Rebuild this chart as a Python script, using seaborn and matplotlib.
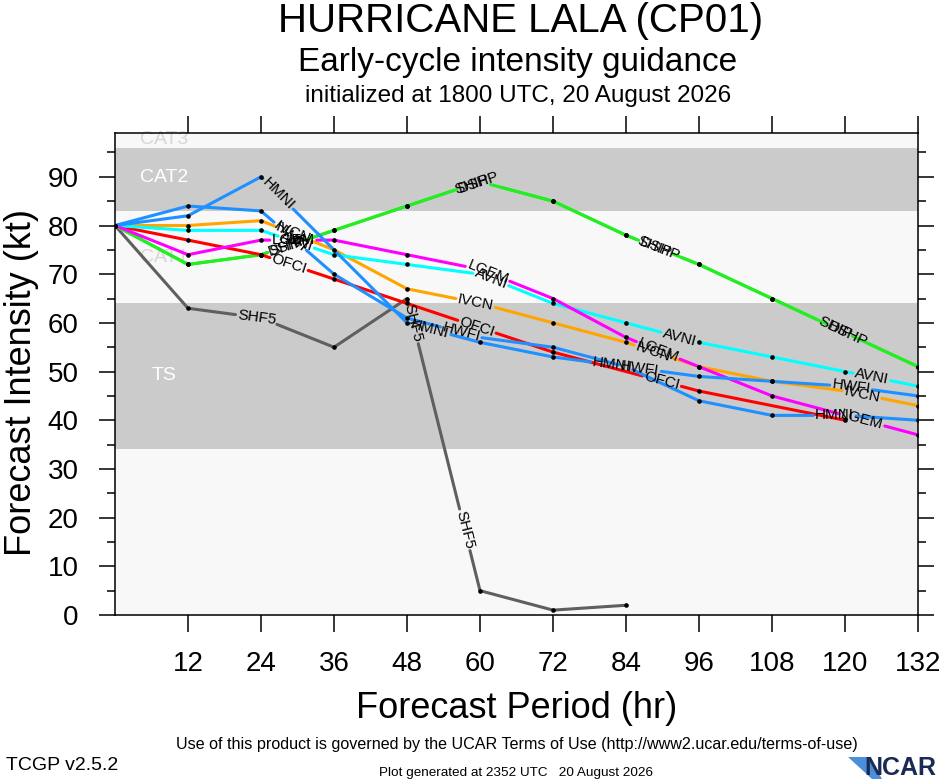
import numpy as np
import pandas as pd
import matplotlib
matplotlib.use("Agg")
import matplotlib.pyplot as plt
import seaborn as sns

# forecast hour and intensity (kt) for each guidance model
hours = [0, 12, 24, 36, 48, 60, 72, 84, 96, 108, 120, 132]
nan = np.nan
hmni = [80, 82, 90, nan, 60, 56, 53, 51, 44, 41, 41, 40]
hwfi = [80, 84, 83, 70, 61, 57, 55, 51, 49, 48, 47, 45]
ivcn = [80, 80, 81, 75, 67, 64, 60, 56, 51, 48, 46, 43]
lgem = [80, 74, 77, 77, 74, 71, 65, 57, 51, 45, 41, 37]
avni = [80, 79, 79, 74, 72, 70, 64, 60, 56, 53, 50, 47]
ship = [80, 72, 74, 79, 84, 89, 85, 78, 72, 65, 58, 51]
dshp = [80, 72, 74, 79, 84, 89, 85, 78, 72, 65, 58, 51]
ofci = [80, 77, 74, 69, 64, 59, 54, nan, 46, nan, 40, nan]
shf5 = [80, 63, 61, 55, 65, 5, 1, 2, nan, nan, nan, nan]

models = ["SHF5", "SHIP", "DSHP", "OFCI", "IVCN", "AVNI", "LGEM", "HWFI", "HMNI"]
values = [shf5, ship, dshp, ofci, ivcn, avni, lgem, hwfi, hmni]
colors = ["#5f5f5f", "#22ee22", "#22ee22", "#ff0000", "#ffa500",
          "#00ffff", "#ff00ff", "#1e90ff", "#1e90ff"]

# Saffir-Simpson bands (kt)
band_edges = [0, 34, 64, 83, 96, 113]
band_names = ["", "TS", "CAT1", "CAT2", "CAT3"]
band_colors = ["#f8f8f8", "#cbcbcb", "#f8f8f8", "#cbcbcb", "#f8f8f8"]
band_text_y = [0, 49.1, 73.5, 89.8, 97.6]
band_text_colors = ["", "white", "#d6d6d6", "white", "#d6d6d6"]

# where along each line (in forecast hours) the model name sits
label_hours = {
    "HMNI": [26.8, 51.8, 81.7, 118.3],
    "HWFI": [28.8, 56.9, 86.3, 121.0],
    "IVCN": [29.3, 59.3, 88.5, 122.8],
    "LGEM": [29.3, 61.3, 89.3, 122.8],
    "AVNI": [29.8, 61.8, 92.8, 124.4],
    "SHIP": [28.2, 58.6, 88.6, 118.3],
    "DSHP": [28.6, 59.8, 89.6, 120.5],
    "OFCI": [28.6, 59.5, 89.9],
    "SHF5": [23.3, 49.0, 57.5],
}

sns.set_theme(style="ticks", rc={
    "text.color": "black", "axes.labelcolor": "black",
    "xtick.color": "black", "ytick.color": "black",
    "axes.edgecolor": "black", "axes.linewidth": 1.1,
})
plt.rcParams["font.family"] = ["Liberation Sans", "DejaVu Sans"]

W, H = 940, 780
fig = plt.figure(figsize=(W / 100, H / 100), dpi=100)
ax = fig.add_axes([115 / W, 1 - 615 / H, 803 / W, 482 / H])
ax.set_xlim(0, 132)
ax.set_ylim(0, 99)

# category bands
for lo, hi, c in zip(band_edges[:-1], band_edges[1:], band_colors):
    ax.axhspan(lo, hi, color=c, lw=0, zorder=0)
for name, y, c in zip(band_names, band_text_y, band_text_colors):
    if name:
        ax.text(8, y, name, color=c, fontsize=14, ha="center", va="center", zorder=1)

# line labels break their own line (and hide its dots), like NCL line labels
renderer = fig.canvas.get_renderer()
to_disp = ax.transData.transform
to_data = ax.transData.inverted().transform

line_rows, dot_rows = [], []
for name, vals in zip(models, values):
    d = pd.DataFrame({"hr": hours, "kt": vals}).dropna()
    hr = d["hr"].to_numpy(float)
    xy = to_disp(d[["hr", "kt"]].to_numpy(float))
    cum = np.concatenate([[0.0], np.cumsum(np.hypot(*np.diff(xy, axis=0).T))])

    gaps = []
    for h in label_hours[name]:
        i = int(np.searchsorted(hr, h)) - 1
        t = (h - hr[i]) / (hr[i + 1] - hr[i])
        p = xy[i] + t * (xy[i + 1] - xy[i])
        s = cum[i] + t * (cum[i + 1] - cum[i])
        dx, dy = xy[i + 1] - xy[i]
        lab = ax.text(*to_data(p), name, fontsize=11, ha="center", va="center",
                      rotation_mode="anchor", zorder=6)
        w = lab.get_window_extent(renderer).width
        lab.set_rotation(np.degrees(np.arctan2(dy, dx)))
        gaps.append((s - w / 2 - 2, s + w / 2 + 2))

    def at(s):
        k = min(max(int(np.searchsorted(cum, s, side="right")) - 1, 0), len(cum) - 2)
        f = (s - cum[k]) / (cum[k + 1] - cum[k])
        return xy[k] + f * (xy[k + 1] - xy[k])

    keep, start = [], 0.0
    for a, b in sorted(gaps):
        if a > start:
            keep.append((start, a))
        start = max(start, b)
    if start < cum[-1]:
        keep.append((start, cum[-1]))

    for j, (a, b) in enumerate(keep):
        pts = [at(a)] + [xy[k] for k in range(len(cum)) if a < cum[k] < b] + [at(b)]
        for x, y in to_data(np.array(pts)):
            line_rows.append((name, f"{name}{j}", x, y))
    for k in range(len(cum)):
        if not any(a <= cum[k] <= b for a, b in gaps):
            dot_rows.append((name, hr[k], d["kt"].iloc[k]))

lines = pd.DataFrame(line_rows, columns=["model", "piece", "hr", "kt"])
dots = pd.DataFrame(dot_rows, columns=["model", "hr", "kt"])

sns.lineplot(data=lines, x="hr", y="kt", hue="model", hue_order=models, units="piece",
             estimator=None, sort=False, palette=dict(zip(models, colors)),
             linewidth=2.2, legend=False, ax=ax, zorder=3)
sns.scatterplot(data=dots, x="hr", y="kt", color="black", s=11, linewidth=0,
                legend=False, ax=ax, zorder=5)

ax.set_xlim(0, 132)
ax.set_ylim(0, 99)
ax.set_xticks(range(12, 133, 12))
ax.set_yticks(range(0, 91, 10))
ax.set_yticks(range(5, 100, 10), minor=True)
ax.tick_params(which="both", direction="out", top=True, right=True, width=1.1)
ax.tick_params(which="major", length=11.3, labelsize=20)
ax.tick_params(which="minor", length=5.5)
ax.tick_params(axis="y", pad=15)
ax.tick_params(axis="x", length=12.2, pad=14)

ax.set_xlabel("Forecast Period (hr)", fontsize=26, va="center")
ax.xaxis.set_label_coords((517 - 115) / 803, (615 - 708) / 482)
ax.set_ylabel("Forecast Intensity (kt)", fontsize=26, va="center")
ax.yaxis.set_label_coords((22 - 115) / 803, (615 - 383) / 482)

# titles
fig.text(521 / W, 1 - 21 / H, "HURRICANE LALA (CP01)", fontsize=29, ha="center", va="center")
fig.text(518 / W, 1 - 62 / H, "Early-cycle intensity guidance", fontsize=24, ha="center", va="center")
fig.text(518 / W, 1 - 96 / H, "initialized at 1800 UTC, 20 August 2026", fontsize=17.5,
         ha="center", va="center")

# footer
fig.text(517 / W, 1 - 744 / H,
         "Use of this product is governed by the UCAR Terms of Use (http://www2.ucar.edu/terms-of-use)",
         fontsize=11.6, ha="center", va="center")
fig.text(6 / W, 1 - 765 / H, "TCGP v2.5.2", fontsize=14, ha="left", va="center")
fig.text(516 / W, 1 - 773 / H, "Plot generated at 2352 UTC   20 August 2026", fontsize=9.7,
         ha="center", va="center")
swoosh = plt.Polygon([(848 / W, 1 - 757 / H), (870 / W, 1 - 757 / H), (882 / W, 1 - 779 / H),
                      (872 / W, 1 - 779 / H)], closed=True, transform=fig.transFigure,
                     facecolor="#4a8fd8", edgecolor="none")
fig.patches.append(swoosh)
fig.text(936 / W, 1 - 768 / H, "NCAR", fontsize=18, fontweight="bold", color="#1b2a55",
         ha="right", va="center")

fig.savefig("out.png", dpi=100)
